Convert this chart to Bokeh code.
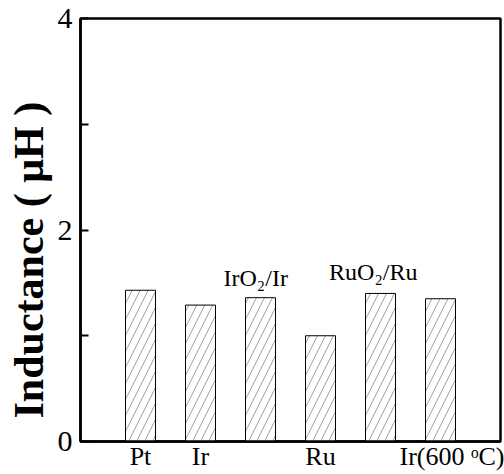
from bokeh.plotting import figure
from bokeh.models import Range1d, FixedTicker, ColumnDataSource, Title
from bokeh.core.properties import value
from bokeh.embed import file_html
from bokeh.resources import INLINE

# data
positions = [1, 2, 3, 4, 5, 6]
names = ["Pt", "Ir", "IrO\u2082/Ir", "Ru", "RuO\u2082/Ru", "Ir(600 \u1d52C)"]
inductance = [1.43, 1.29, 1.36, 1.00, 1.40, 1.35]

# labels drawn under the axis
bottom_ticks = [1, 2, 4, 6.25]
bottom_labels = ["Pt", "Ir", "Ru", "Ir(600 \u1d52C)"]
# labels drawn above bars
top_x = [2.92, 4.88]
top_y = [1.55, 1.60]
top_labels = ["IrO\u2082/Ir", "RuO\u2082/Ru"]

y_ticks = [0, 1, 2, 3, 4]
y_tick_labels = {0: "0", 1: "", 2: "2", 3: "", 4: "4"}
y_title = "Inductance ( \u03bcH )"

FONT = "Liberation Serif"

p = figure(width=504, height=474, output_backend="svg", toolbar_location=None,
           x_range=Range1d(0, 7), y_range=Range1d(0, 4), title=None,
           min_border_left=80, min_border_right=4, min_border_top=18, min_border_bottom=33)
p.xgrid.visible = False
p.ygrid.visible = False
p.background_fill_color = "white"
p.border_fill_color = "white"
p.outline_line_color = "black"
p.outline_line_width = 2.5

src = ColumnDataSource(dict(x=positions, top=inductance))
p.vbar(x="x", top="top", width=0.5, bottom=0, source=src,
       fill_color="white", line_color="black", line_width=1,
       hatch_pattern="/", hatch_color="#8a8a8a", hatch_weight=0.8, hatch_scale=16)

tsrc = ColumnDataSource(dict(x=top_x, y=top_y, t=top_labels))
p.text(x="x", y="y", text="t", source=tsrc, text_font=value(FONT),
       text_font_size="24px", text_align="center", text_baseline="alphabetic", text_color="black")

p.add_layout(Title(text=y_title, text_font=FONT, text_font_size="42px",
                   text_font_style="bold", text_color="black", align="left",
                   offset=23, standoff=6), "left")

ya = p.yaxis[0]
ya.ticker = FixedTicker(ticks=y_ticks)
ya.major_label_overrides = y_tick_labels
ya.major_tick_in = 8
ya.major_tick_out = 0
ya.minor_tick_line_color = None
ya.axis_line_width = 2.5
ya.axis_line_color = "black"
ya.major_tick_line_width = 2
ya.major_tick_line_color = "black"
ya.major_label_text_font = FONT
ya.major_label_text_font_size = "30px"
ya.major_label_text_color = "black"
ya.major_label_standoff = 8

xa = p.xaxis[0]
xa.ticker = FixedTicker(ticks=bottom_ticks)
xa.major_label_overrides = {k: v for k, v in zip(bottom_ticks, bottom_labels)}
xa.major_tick_line_color = None
xa.major_tick_out = 0
xa.major_tick_in = 0
xa.minor_tick_line_color = None
xa.axis_line_width = 2.5
xa.axis_line_color = "black"
xa.major_label_text_font = FONT
xa.major_label_text_font_size = "26px"
xa.major_label_text_color = "black"
xa.major_label_standoff = 0

open("out.html", "w").write(file_html(p, INLINE))
